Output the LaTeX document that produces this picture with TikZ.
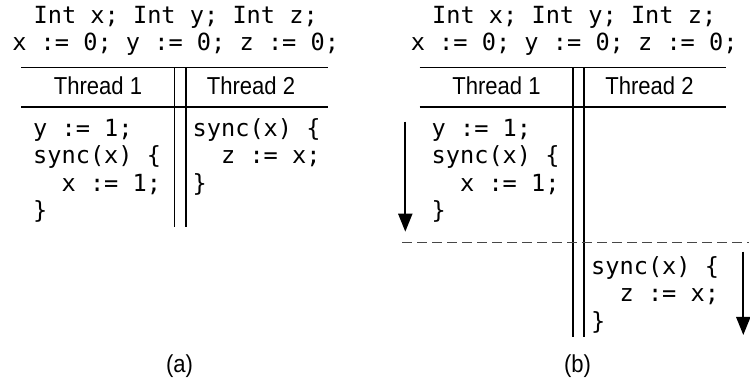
\documentclass[tikz,border=0pt]{standalone}
\usepackage{fontspec}
\newfontfamily\codefont{DejaVu Sans Mono}
\newfontfamily\labfont[FakeStretch=0.9]{Liberation Sans}
\usetikzlibrary{arrows.meta}
\begin{document}
\begin{tikzpicture}[x=1pt,y=-1pt,
  code/.style={font=\codefont\fontsize{23.6}{27}\selectfont,inner sep=0pt,anchor=base west},
  hdr/.style={font=\codefont\fontsize{23.6}{27}\selectfont,inner sep=0pt,anchor=base},
  lab/.style={font=\labfont\fontsize{24.5}{28}\selectfont,inner sep=0pt,anchor=base},
  rule/.style={line width=1.7pt},
  flow/.style={line width=2pt,-{Triangle[length=18pt,width=14pt]}},
  sep/.style={line width=1.5pt,dash pattern=on 9.5pt off 5.5pt,color=black!72}]
\useasboundingbox (0,0) rectangle (750,387);
% ---------- (a) ----------
\node[hdr] (ah1) at (175.7,23.5) {Int x; Int y; Int z;};
\node[hdr] (ah2) at (175.7,50.8) {x := 0; y := 0; z := 0;};
\coordinate (atl) at (21,67.5); \coordinate (atr) at (328,67.5);
\coordinate (aml) at (21,107.3); \coordinate (amr) at (328,107.3);
\draw[rule] (atl) -- (atr);
\draw[rule] (aml) -- (amr);
\coordinate (av1t) at (174.5,67.5); \coordinate (av1b) at (174.5,227);
\coordinate (av2t) at (185.7,67.5); \coordinate (av2b) at (185.7,227);
\draw[rule] (av1t) -- (av1b);
\draw[rule] (av2t) -- (av2b);
\node[lab] (at1) at (98,95) {Thread 1};
\node[lab] (at2) at (251,95) {Thread 2};
\node[code] (aa1) at (33,136.7) {y := 1;};
\node[code] (aa2) at (33,164) {sync(x) \{};
\node[code] (aa3) at (61.4,191.3) {x := 1;};
\node[code] (aa4) at (33,218.6) {\}};
\node[code] (ab1) at (192.5,136.7) {sync(x) \{};
\node[code] (ab2) at (220.9,164) {z := x;};
\node[code] (ab3) at (192.5,191.3) {\}};
\node[lab] (alab) at (179.5,373) {(a)};
% ---------- (b) ----------
\begin{scope}[shift={(398.5,0)}]
\node[hdr] (bh1) at (175.7,23.5) {Int x; Int y; Int z;};
\node[hdr] (bh2) at (175.7,50.8) {x := 0; y := 0; z := 0;};
\coordinate (btl) at (21,67.5); \coordinate (btr) at (327,67.5);
\coordinate (bml) at (21,107.3); \coordinate (bmr) at (327,107.3);
\draw[rule] (btl) -- (btr);
\draw[rule] (bml) -- (bmr);
\coordinate (bv1t) at (174.5,67.5); \coordinate (bv1b) at (174.5,337);
\coordinate (bv2t) at (185.7,67.5); \coordinate (bv2b) at (185.7,337);
\draw[rule] (bv1t) -- (bv1b);
\draw[rule] (bv2t) -- (bv2b);
\node[lab] (bt1) at (98,95) {Thread 1};
\node[lab] (bt2) at (251,95) {Thread 2};
\node[code] (ba1) at (33,136.7) {y := 1;};
\node[code] (ba2) at (33,164) {sync(x) \{};
\node[code] (ba3) at (61.4,191.3) {x := 1;};
\node[code] (ba4) at (33,218.6) {\}};
\node[code] (bb1) at (192.5,274.5) {sync(x) \{};
\node[code] (bb2) at (220.9,301.8) {z := x;};
\node[code] (bb3) at (192.5,329.1) {\}};
\coordinate (bds) at (3.5,242.7); \coordinate (bde) at (350,242.7);
\draw[sep] (bds) -- (bde);
\coordinate (bf1s) at (6.8,121.7); \coordinate (bf1e) at (6.8,231.7);
\draw[flow] (bf1s) -- (bf1e);
\coordinate (bf2s) at (344.8,251.7); \coordinate (bf2e) at (344.8,335);
\draw[flow] (bf2s) -- (bf2e);
\node[lab] (blab) at (179,373) {(b)};
\end{scope}
\end{tikzpicture}
\end{document}
